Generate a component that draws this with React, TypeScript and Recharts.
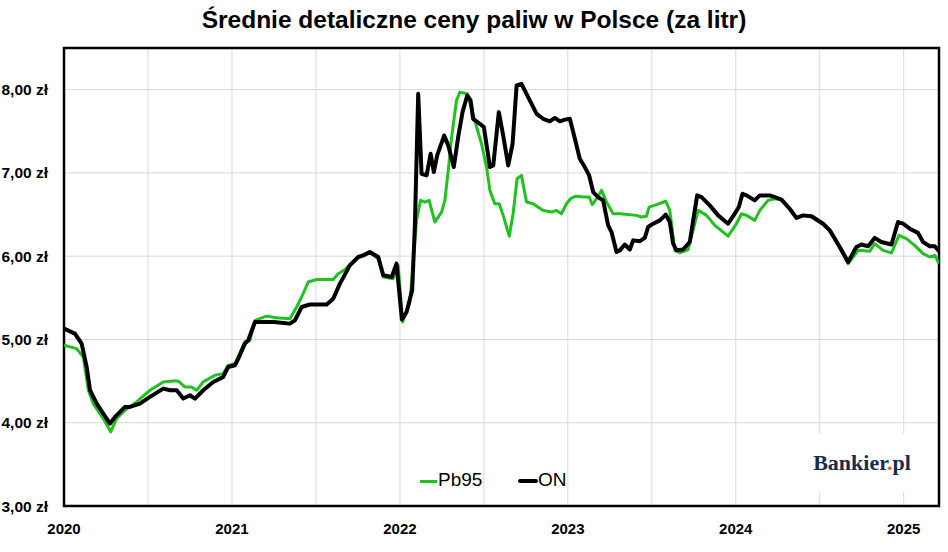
import {
  CartesianGrid,
  Legend,
  Line,
  LineChart,
  ReferenceArea,
  XAxis,
  YAxis,
} from "recharts";

// dates as decimal years, prices in zł per litre
const pb95Dates = [
  2020.0, 2020.075, 2020.115, 2020.145, 2020.174, 2020.234, 2020.278, 2020.313, 2020.363, 2020.432,
  2020.512, 2020.591, 2020.65, 2020.68, 2020.72, 2020.76, 2020.79, 2020.829, 2020.899, 2020.948,
  2020.978, 2021.018, 2021.077, 2021.107, 2021.137, 2021.206, 2021.266, 2021.345, 2021.385, 2021.415,
  2021.454, 2021.504, 2021.603, 2021.633, 2021.673, 2021.702, 2021.752, 2021.782, 2021.821, 2021.871,
  2021.901, 2021.96, 2021.99, 2022.016, 2022.06, 2022.099, 2022.123, 2022.149, 2022.174, 2022.208,
  2022.248, 2022.268, 2022.288, 2022.308, 2022.337, 2022.357, 2022.401, 2022.427, 2022.457, 2022.486,
  2022.516, 2022.536, 2022.565, 2022.591, 2022.615, 2022.651, 2022.674, 2022.698, 2022.724, 2022.754,
  2022.793, 2022.853, 2022.903, 2022.932, 2022.962, 2022.992, 2023.016, 2023.048, 2023.091, 2023.127,
  2023.145, 2023.171, 2023.201, 2023.23, 2023.27, 2023.31, 2023.409, 2023.438, 2023.468, 2023.484,
  2023.528, 2023.583, 2023.607, 2023.637, 2023.667, 2023.716, 2023.776, 2023.826, 2023.875, 2023.954,
  2024.004, 2024.034, 2024.064, 2024.113, 2024.143, 2024.192, 2024.232, 2024.272, 2024.321, 2024.361,
  2024.401, 2024.451, 2024.52, 2024.56, 2024.619, 2024.669, 2024.729, 2024.798, 2024.827, 2024.877,
  2024.927, 2024.972, 2025.016, 2025.065, 2025.115, 2025.155, 2025.185, 2025.21,
];
const pb95Prices = [
  4.93, 4.89, 4.79, 4.39, 4.23, 4.05, 3.89, 4.05, 4.15, 4.25,
  4.39, 4.49, 4.5, 4.5, 4.43, 4.43, 4.39, 4.49, 4.57, 4.59,
  4.69, 4.71, 4.97, 4.99, 5.23, 5.28, 5.26, 5.25, 5.39, 5.51,
  5.69, 5.72, 5.72, 5.79, 5.84, 5.9, 5.99, 6.01, 6.04, 5.97,
  5.75, 5.73, 5.89, 5.21, 5.45, 6.43, 6.67, 6.65, 6.67, 6.41,
  6.53, 6.67, 7.03, 7.43, 7.87, 7.97, 7.95, 7.77, 7.55, 7.35,
  7.07, 6.79, 6.63, 6.63, 6.49, 6.24, 6.51, 6.93, 6.97, 6.65,
  6.63, 6.55, 6.53, 6.55, 6.51, 6.63, 6.69, 6.72, 6.71, 6.71,
  6.62, 6.69, 6.79, 6.65, 6.51, 6.51, 6.49, 6.47, 6.48, 6.59,
  6.62, 6.66, 6.55, 6.07, 6.04, 6.08, 6.55, 6.49, 6.37, 6.24,
  6.39, 6.51, 6.49, 6.43, 6.55, 6.67, 6.69, 6.68, 6.57, 6.46,
  6.49, 6.47, 6.38, 6.3, 6.1, 5.91, 6.07, 6.06, 6.15, 6.07,
  6.04, 6.25, 6.21, 6.13, 6.03, 5.99, 6.01, 5.91,
];

const onDates = [
  2020.0, 2020.065, 2020.105, 2020.135, 2020.155, 2020.195, 2020.234, 2020.274, 2020.304, 2020.363,
  2020.393, 2020.452, 2020.512, 2020.591, 2020.631, 2020.671, 2020.71, 2020.75, 2020.78, 2020.829,
  2020.889, 2020.948, 2020.978, 2021.018, 2021.038, 2021.077, 2021.097, 2021.137, 2021.25, 2021.345,
  2021.375, 2021.415, 2021.464, 2021.564, 2021.603, 2021.643, 2021.702, 2021.752, 2021.782, 2021.821,
  2021.871, 2021.901, 2021.951, 2021.98, 2022.012, 2022.04, 2022.055, 2022.073, 2022.089, 2022.109,
  2022.129, 2022.159, 2022.183, 2022.202, 2022.222, 2022.264, 2022.288, 2022.321, 2022.347, 2022.373,
  2022.401, 2022.421, 2022.436, 2022.476, 2022.5, 2022.536, 2022.556, 2022.589, 2022.615, 2022.645,
  2022.671, 2022.695, 2022.724, 2022.754, 2022.784, 2022.814, 2022.853, 2022.893, 2022.923, 2022.952,
  2022.982, 2023.012, 2023.042, 2023.071, 2023.101, 2023.127, 2023.151, 2023.18, 2023.21, 2023.24,
  2023.26, 2023.29, 2023.31, 2023.339, 2023.369, 2023.389, 2023.429, 2023.458, 2023.478, 2023.508,
  2023.548, 2023.583, 2023.607, 2023.627, 2023.647, 2023.686, 2023.726, 2023.77, 2023.796, 2023.845,
  2023.895, 2023.954, 2023.994, 2024.018, 2024.04, 2024.064, 2024.113, 2024.143, 2024.202, 2024.232,
  2024.272, 2024.321, 2024.361, 2024.401, 2024.451, 2024.52, 2024.56, 2024.619, 2024.669, 2024.718,
  2024.748, 2024.788, 2024.827, 2024.867, 2024.927, 2024.966, 2024.996, 2025.036, 2025.085, 2025.115,
  2025.155, 2025.185, 2025.21,
];
const onPrices = [
  5.13, 5.07, 4.95, 4.67, 4.39, 4.23, 4.11, 3.99, 4.07, 4.19,
  4.19, 4.23, 4.31, 4.41, 4.39, 4.39, 4.29, 4.33, 4.29, 4.39,
  4.49, 4.55, 4.67, 4.69, 4.77, 4.95, 4.99, 5.21, 5.21, 5.19,
  5.23, 5.39, 5.42, 5.42, 5.49, 5.67, 5.89, 5.99, 6.01, 6.05,
  5.99, 5.77, 5.75, 5.91, 5.24, 5.33, 5.45, 5.59, 6.35, 7.95,
  6.99, 6.97, 7.23, 7.01, 7.21, 7.45, 7.33, 7.07, 7.43, 7.73,
  7.93, 7.87, 7.65, 7.59, 7.55, 7.07, 7.09, 7.73, 7.45, 7.09,
  7.35, 8.05, 8.07, 7.95, 7.83, 7.71, 7.65, 7.62, 7.66, 7.62,
  7.64, 7.65, 7.41, 7.17, 7.07, 6.97, 6.77, 6.71, 6.67, 6.37,
  6.29, 6.05, 6.07, 6.14, 6.08, 6.19, 6.18, 6.22, 6.35, 6.39,
  6.43, 6.5, 6.41, 6.15, 6.07, 6.08, 6.17, 6.73, 6.71, 6.61,
  6.49, 6.39, 6.51, 6.59, 6.75, 6.73, 6.67, 6.73, 6.73, 6.71,
  6.68, 6.57, 6.46, 6.49, 6.48, 6.39, 6.31, 6.11, 5.93, 6.11,
  6.14, 6.12, 6.22, 6.17, 6.14, 6.41, 6.39, 6.33, 6.28, 6.17,
  6.12, 6.12, 6.06,
];

const xTicks = [2020, 2020.5, 2021, 2021.5, 2022, 2022.5, 2023, 2023.5, 2024, 2024.5, 2025];
const yTicks = [3, 4, 5, 6, 7, 8];

const pb95Data = pb95Dates.map((t, i) => ({ t, v: pb95Prices[i] }));
const onData = onDates.map((t, i) => ({ t, v: onPrices[i] }));

const GREEN = "#1fc21f";
const FONT = "'Liberation Sans', Arial, sans-serif";

const renderLegend = () => (
  <div style={{ position: "relative", width: 948, height: 30, fontFamily: FONT, fontSize: 19, color: "#000" }}>
    <div style={{ position: "absolute", left: 420, top: 14, width: 17, height: 3, background: GREEN }} />
    <div style={{ position: "absolute", left: 438, top: 3 }}>Pb95</div>
    <div style={{ position: "absolute", left: 518, top: 13, width: 20, height: 4, background: "#000", borderRadius: 2 }} />
    <div style={{ position: "absolute", left: 538, top: 3 }}>ON</div>
  </div>
);

export default function App() {
  return (
    <div style={{ position: "absolute", left: 0, top: 0, width: 948, height: 552, background: "#fff" }}>
      <div
        style={{
          position: "absolute",
          left: 0,
          top: 6,
          width: 948,
          textAlign: "center",
          fontFamily: FONT,
          fontWeight: 700,
          fontSize: 24.5,
          color: "#000",
        }}
      >
        Średnie detaliczne ceny paliw w Polsce (za litr)
      </div>
      <LineChart width={948} height={552} margin={{ top: 48, right: 9, bottom: 0, left: 0 }}>
        <CartesianGrid stroke="#d9d9d9" strokeWidth={1} />
        <XAxis
          type="number"
          dataKey="t"
          domain={[2020, 2025.21]}
          ticks={xTicks}
          allowDataOverflow
          height={46}
          axisLine={false}
          tickLine={false}
          tickSize={6}
          tickMargin={11}
          tickFormatter={(v: number) => (Number.isInteger(v) ? String(v) : "")}
          tick={{ fill: "#000", fontSize: 15, fontWeight: 700, fontFamily: FONT }}
        />
        <YAxis
          type="number"
          domain={[3, 8.5]}
          ticks={yTicks}
          allowDataOverflow
          width={64}
          axisLine={false}
          tickLine={false}
          tickSize={6}
          tickMargin={10}
          tickFormatter={(v: number) => `${v.toFixed(2).replace(".", ",")} zł`}
          tick={{ fill: "#000", fontSize: 15.5, fontWeight: 700, fontFamily: FONT }}
        />
        <Legend
          verticalAlign="middle"
          align="center"
          layout="horizontal"
          content={renderLegend}
          wrapperStyle={{ left: 0, top: 466, width: 948 }}
        />
        <Line
          data={pb95Data}
          dataKey="v"
          name="Pb95"
          type="linear"
          stroke={GREEN}
          strokeWidth={3}
          strokeLinejoin="round"
          dot={false}
          activeDot={false}
          isAnimationActive={false}
        />
        <Line
          data={onData}
          dataKey="v"
          name="ON"
          type="linear"
          stroke="#000"
          strokeWidth={4}
          strokeLinejoin="round"
          dot={false}
          activeDot={false}
          isAnimationActive={false}
        />
        <ReferenceArea x1={2020} x2={2025.21} y1={3} y2={8.5} fill="none" stroke="#000" strokeWidth={2.5} />
      </LineChart>
      <div
        style={{
          position: "absolute",
          left: 806,
          top: 434,
          width: 112,
          height: 58,
          background: "#fff",
          fontFamily: "'Liberation Serif', 'DejaVu Serif', serif",
          fontWeight: 700,
          fontSize: 22,
          color: "#1b2a4a",
          lineHeight: "58px",
          textAlign: "center",
        }}
      >
        Bankier<span style={{ color: "#e8571e" }}>.</span>pl
      </div>
    </div>
  );
}
